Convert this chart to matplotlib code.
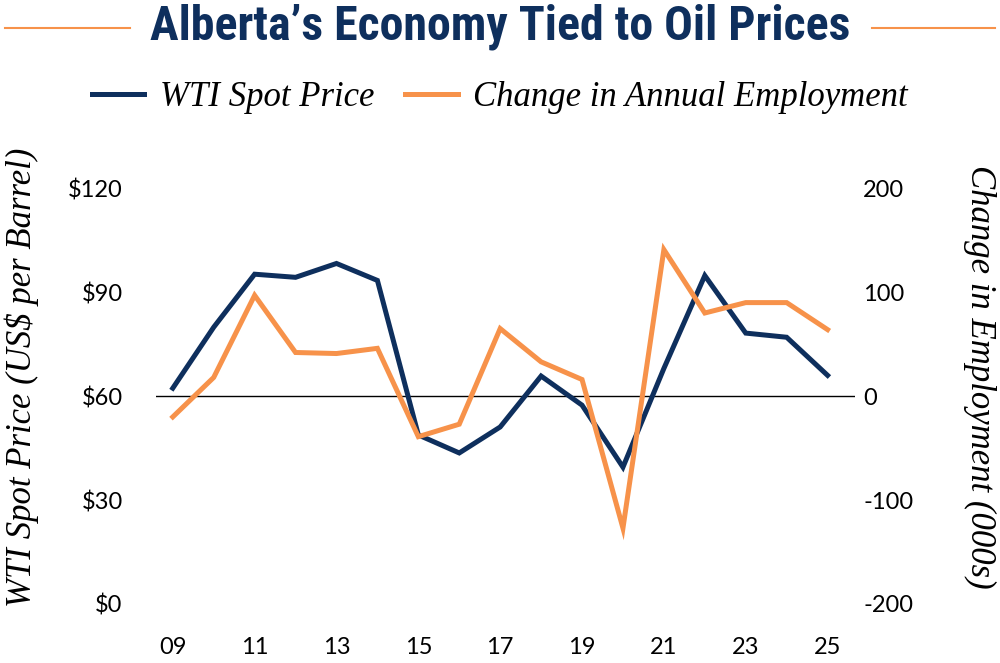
import matplotlib.pyplot as plt
from matplotlib import font_manager
from matplotlib.lines import Line2D

years = list(range(2009, 2026))
tick_years = [2009, 2011, 2013, 2015, 2017, 2019, 2021, 2023, 2025]
tick_labels = ['09', '11', '13', '15', '17', '19', '21', '23', '25']
price_ticks = [0, 30, 60, 90, 120]
price_labels = ['$0', '$30', '$60', '$90', '$120']
emp_ticks = [-200, -100, 0, 100, 200]
emp_labels = ['-200', '-100', '0', '100', '200']

# WTI spot price, US$ per barrel
wti_price = [62.3, 79.9, 95.2, 94.3, 98.3, 93.4, 48.8, 43.6, 51.1, 65.8,
             57.4, 39.5, 68.0, 94.8, 78.2, 77.0, 66.0]
# change in annual employment, thousands
emp_change = [-20, 18, 97, 42, 41, 46, -39, -27, 65, 33,
              16, -127, 141, 80, 90, 90, 64]

navy = '#0e2f5d'
orange = '#f7924a'
tick_font = 'Lato'
serif = 'Liberation Serif'

# pick a narrow bold face for the title if one is installed
title_family, title_stretch = 'Roboto', 'normal'
for f in font_manager.fontManager.ttflist:
    if f.name in ('Liberation Sans Narrow', 'Roboto Condensed', 'Open Sans Condensed'):
        title_family, title_stretch = f.name, 'normal'
        break
    if f.name == 'DejaVu Sans' and f.stretch == 'condensed':
        title_family, title_stretch = 'DejaVu Sans', 'condensed'

fig = plt.figure(figsize=(10, 6.63), dpi=100)
ax = fig.add_axes([0.156, 0.089, 0.699, 0.627])
ax2 = ax.twinx()

ax.axhline(60, color='black', lw=1.0, zorder=1)
ax.plot(years, wti_price, color=navy, lw=3.6, solid_joinstyle='miter', zorder=3)
ax2.plot(years, emp_change, color=orange, lw=3.6, solid_joinstyle='miter', zorder=2)

ax.set_xlim(2008.59, 2025.67)
ax.set_ylim(0, 120)
ax2.set_ylim(-200, 200)

ax.set_xticks(tick_years)
ax.set_xticklabels(tick_labels, fontsize=17, family=tick_font)
ax.set_yticks(price_ticks)
ax.set_yticklabels(price_labels, fontsize=17, family=tick_font)
ax2.set_yticks(emp_ticks)
ax2.set_yticklabels(emp_labels, fontsize=17, family=tick_font)
ax.tick_params(axis='x', length=0, pad=24)
ax.tick_params(axis='y', length=0, pad=24)
ax2.tick_params(axis='y', length=0, pad=6)
for a in (ax, ax2):
    for s in a.spines.values():
        s.set_visible(False)

fig.text(0.022, 1 - 377 / 663, 'WTI Spot Price (US$ per Barrel)', rotation=90,
         ha='center', va='center', fontsize=25, family=serif, style='italic')
fig.text(0.980, 1 - 377 / 663, 'Change in Employment (000s)', rotation=-90,
         ha='center', va='center', fontsize=25, family=serif, style='italic')

# title with orange rules on each side
title = fig.text(0.5, 1 - 27 / 663, 'Alberta\u2019s Economy Tied to Oil Prices',
                 ha='center', va='center', fontsize=34, fontweight='bold', color=navy,
                 family=title_family, fontstretch=title_stretch)
renderer = fig.canvas.get_renderer()
w = title.get_window_extent(renderer).width
title.set_fontsize(min(34 * 700 / w, 36))
fig.add_artist(Line2D([0.005, 0.13], [1 - 28 / 663] * 2, color=orange, lw=1.5))
fig.add_artist(Line2D([0.872, 0.995], [1 - 28 / 663] * 2, color=orange, lw=1.5))

# legend
handles = [Line2D([], [], color=navy, lw=3.6), Line2D([], [], color=orange, lw=3.6)]
fig.legend(handles, ['WTI Spot Price', 'Change in Annual Employment'],
           loc='center', bbox_to_anchor=(0.5, 1 - 98 / 663), ncol=2, frameon=False,
           prop={'family': serif, 'style': 'italic', 'size': 25},
           handlelength=1.5, handletextpad=0.45, columnspacing=0.9)

fig.savefig('out.png', dpi=100)
